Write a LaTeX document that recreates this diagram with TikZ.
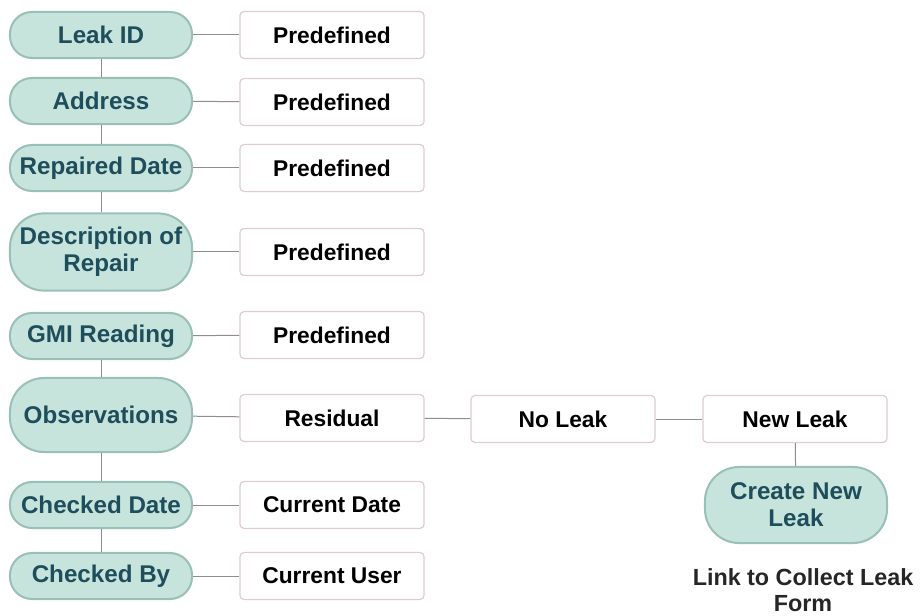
\documentclass[tikz,border=0pt]{standalone}
\usepackage{fontspec}
\setmainfont{Liberation Sans}
\usepackage{tikz}
\usetikzlibrary{positioning}
\definecolor{pillfill}{HTML}{C6E3DC}
\definecolor{pilledge}{HTML}{98C0B6}
\definecolor{pilltext}{HTML}{1E4D5B}
\definecolor{boxedge}{HTML}{E0CAD8}
\definecolor{linkgray}{HTML}{8E8E8E}
\tikzset{
	field/.style={draw=pilledge, line width=0.5mm, fill=pillfill, rounded corners=0.55cm,
		minimum width=4.55cm, minimum height=1.15cm, align=center, text=pilltext,
		font=\fontsize{17.2}{19}\selectfont\bfseries},
	tallfield/.style={field, rounded corners=0.85cm},
	valuebox/.style={draw=boxedge, line width=0.3mm, rounded corners=0.1cm, fill=white,
		minimum width=4.6cm, minimum height=1.17cm, text=black,
		font=\fontsize{16.2}{18}\selectfont\bfseries},
	link/.style={draw=linkgray, line width=0.25mm}
}

\begin{document}
\begin{tikzpicture}[x=0.025cm, y=-0.025cm]
			%%%%% START %%%%%
			\useasboundingbox (0, 0) rectangle (921, 616);
			
			\node[field] (leakid) at (101, 35) {Leak ID};
			\node[field] (address) at (101, 101) {Address};
			\node[field] (repdate) at (101, 168) {Repaired Date};
			\node[tallfield, minimum height=1.93cm] (descr) at (101, 252) {Description of\\Repair};
			\node[field] (gmi) at (101, 336) {GMI Reading};
			\node[tallfield, minimum height=1.85cm] (observ) at (101, 415) {Observations};
			\node[field] (chkdate) at (101, 505) {Checked Date};
			\node[field] (chkby) at (101, 576) {Checked By};
			
			\node[valuebox] (pre1) at (332, 35) {Predefined};
			\node[valuebox] (pre2) at (332, 102) {Predefined};
			\node[valuebox] (pre3) at (332, 168) {Predefined};
			\node[valuebox] (pre4) at (332, 252) {Predefined};
			\node[valuebox] (pre5) at (332, 335) {Predefined};
			\node[valuebox] (residual) at (332, 418) {Residual};
			\node[valuebox] (curdate) at (332, 505) {Current Date};
			\node[valuebox] (curuser) at (332, 576) {Current User};
			
			\node[valuebox] (noleak) at (563, 419) {No Leak};
			\node[valuebox] (newleak) at (795, 419) {New Leak};
			\node[tallfield, minimum height=1.9cm] (create) at (796, 505) {Create New\\Leak};
			\node[align=center, font=\fontsize{16.6}{18.5}\selectfont\bfseries, text=black!85] (linknote) at (803, 590) {Link to Collect Leak\\Form};
			
			% trunk
			\draw[link] (leakid) -- (address);
			\draw[link] (address) -- (repdate);
			\draw[link] (repdate) -- (descr);
			\draw[link] (gmi) -- (observ);
			\draw[link] (observ) -- (chkdate);
			\draw[link] (chkdate) -- (chkby);
			
			% values
			\draw[link] (leakid) -- (pre1);
			\draw[link] (address) -- (pre2);
			\draw[link] (repdate) -- (pre3);
			\draw[link] (descr) -- (pre4);
			\draw[link] (gmi) -- (pre5);
			\draw[link] (observ) -- (residual);
			\draw[link] (chkdate) -- (curdate);
			\draw[link] (chkby) -- (curuser);
			
			\draw[link] (residual) -- (noleak);
			\draw[link] (noleak) -- (newleak);
			\draw[link] (newleak) -- (create);
			%%%%% END %%%%%
\end{tikzpicture}
\end{document}
